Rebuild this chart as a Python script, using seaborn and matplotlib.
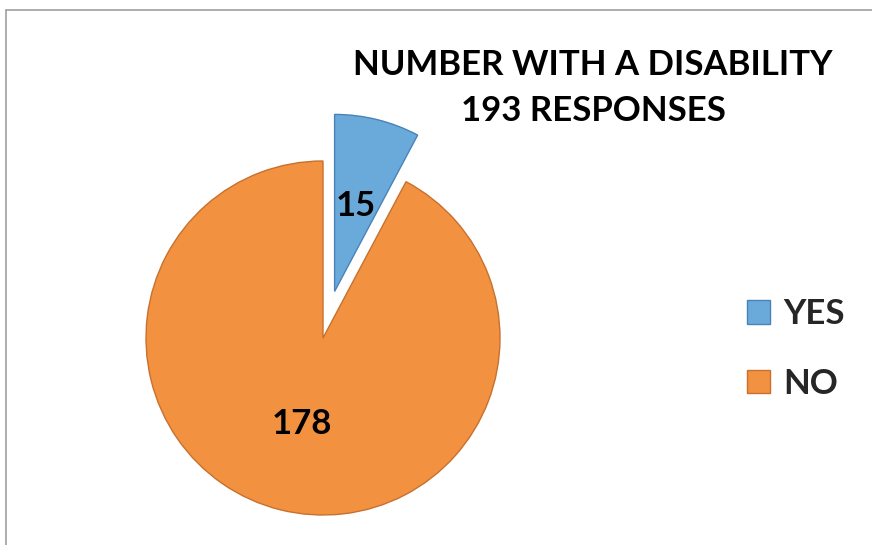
import matplotlib
matplotlib.use("Agg")
import matplotlib.pyplot as plt
import seaborn as sns

# Data
categories = ["YES", "NO"]
counts = [15, 178]
colors = ["#6AAADB", "#F29240"]
edge_colors = ["#4A82B8", "#C8702E"]

title_lines = ["NUMBER WITH A DISABILITY", "193 RESPONSES"]

sns.set_theme(style="white")
plt.rcParams['font.family'] = ['Lato', 'DejaVu Sans']

W, H = 872, 545
fig = plt.figure(figsize=(W / 100, H / 100), dpi=100)
ax = fig.add_axes([0, 0, 1, 1])

total = sum(counts)
wedges, texts, autotexts = ax.pie(
    counts,
    colors=colors,
    startangle=90,
    counterclock=False,
    explode=[48, 0],
    center=(323, H - 338),
    radius=177,
    autopct=lambda p: f"{round(p * total / 100)}",
    pctdistance=0.5,
    wedgeprops=dict(linewidth=1),
    textprops=dict(fontsize=25, fontweight='bold', color='black'),
)
for w, ec in zip(wedges, edge_colors):
    w.set_edgecolor(ec)

ax.set_xlim(0, W)
ax.set_ylim(0, H)
ax.set_aspect('equal')
ax.axis('off')

# Title
ax.text(593, H - 65, title_lines[0], ha='center', va='center',
        fontsize=25, fontweight='bold', color='black')
ax.text(593, H - 111, title_lines[1], ha='center', va='center',
        fontsize=25, fontweight='bold', color='black')

# Legend
ax.legend(wedges, categories, loc='center left',
          bbox_to_anchor=(716 / W, 1 - 349 / H),
          frameon=False, prop=dict(weight='bold', size=25),
          handlelength=0.66, handleheight=0.66, labelspacing=1.08,
          handletextpad=0.37)

# Chart frame (top and left visible)
fig.add_artist(plt.Line2D([6 / W, 6 / W], [0, 1 - 10 / H],
                          transform=fig.transFigure, color='#A0A0A0', lw=1.2))
fig.add_artist(plt.Line2D([6 / W, 1], [1 - 10 / H, 1 - 10 / H],
                          transform=fig.transFigure, color='#A0A0A0', lw=1.2))

fig.savefig("out.png", dpi=100)
